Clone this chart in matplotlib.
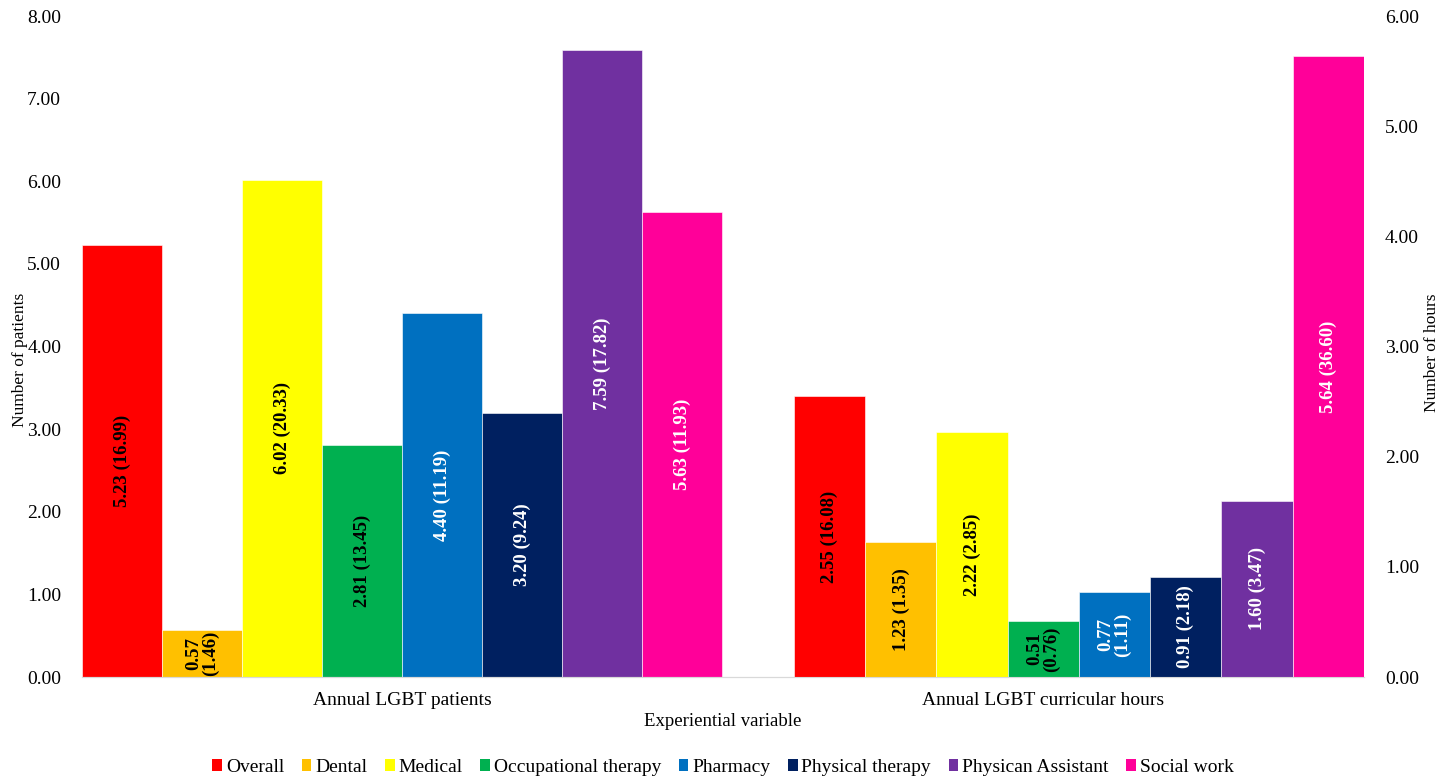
import matplotlib.pyplot as plt
from matplotlib.patches import Patch

plt.rcParams["font.family"] = ["Liberation Serif", "DejaVu Serif"]

programs = ["Overall", "Dental", "Medical", "Occupational therapy", "Pharmacy",
            "Physical therapy", "Physican Assistant", "Social work"]
colors = ["#FF0000", "#FFC000", "#FFFF00", "#00B050", "#0070C0",
          "#002060", "#7030A0", "#FF0099"]
label_colors = ["black", "black", "black", "black", "white", "white", "white", "white"]

categories = ["Annual LGBT patients", "Annual LGBT curricular hours"]

# mean values (left axis: patients, right axis: hours)
patients_mean = [5.23, 0.57, 6.02, 2.81, 4.40, 3.20, 7.59, 5.63]
patients_sd = [16.99, 1.46, 20.33, 13.45, 11.19, 9.24, 17.82, 11.93]
hours_mean = [2.55, 1.23, 2.22, 0.51, 0.77, 0.91, 1.60, 5.64]
hours_sd = [16.08, 1.35, 2.85, 0.76, 1.11, 2.18, 3.47, 36.60]

fig = plt.figure(figsize=(14.46, 7.78), dpi=100)
ax = fig.add_axes([0.0567, 0.1298, 0.8866, 0.8496])
ax2 = ax.twinx()


def draw_group(axis, means, sds, start, width, wrap):
    for i, (m, s) in enumerate(zip(means, sds)):
        x = start + i * width
        axis.bar(x, m, width=width, align="edge", color=colors[i],
                 edgecolor="white", linewidth=0.4)
        sep = "\n" if i in wrap else " "
        axis.text(x + width / 2, m / 2, f"{m:.2f}{sep}({s:.2f})", rotation=90,
                  ha="center", va="center", fontsize=13.5, fontweight="bold",
                  color=label_colors[i], linespacing=0.95)


draw_group(ax, patients_mean, patients_sd, 0.0, 0.1248, wrap=[1])
draw_group(ax2, hours_mean, hours_sd, 1.1108, 0.1111, wrap=[3, 4])

ax.set_xlim(0, 2)
ax.set_ylim(0, 8)
ax2.set_ylim(0, 6)
ax.set_yticks([0, 1, 2, 3, 4, 5, 6, 7, 8])
ax.set_yticklabels([f"{v:.2f}" for v in range(9)])
ax2.set_yticks([0, 1, 2, 3, 4, 5, 6])
ax2.set_yticklabels([f"{v:.2f}" for v in range(7)])
ax.set_xticks([0.5, 1.5])
ax.set_xticklabels(categories)

for a in (ax, ax2):
    for side in ["top", "left", "right"]:
        a.spines[side].set_visible(False)
    a.spines["bottom"].set_color("#d9d9d9")
    a.tick_params(length=0, labelsize=14, pad=15)
ax.tick_params(axis="x", pad=11)

ax.set_ylabel("Number of patients", fontsize=12.5)
ax.yaxis.set_label_coords(-0.042, 0.48)
ax2.set_ylabel("Number of hours", fontsize=12.5)
ax2.yaxis.set_label_coords(1.047, 0.49)
ax.set_xlabel("Experiential variable", fontsize=13.5, labelpad=3)

handles = [Patch(facecolor=c, edgecolor="none") for c in colors]
fig.legend(handles, programs, loc="lower center", bbox_to_anchor=(0.5, -0.02),
           ncol=8, frameon=False, fontsize=14, handlelength=0.5,
           handleheight=0.6, handletextpad=0.2, columnspacing=0.9)

fig.savefig("out.png", dpi=100)
